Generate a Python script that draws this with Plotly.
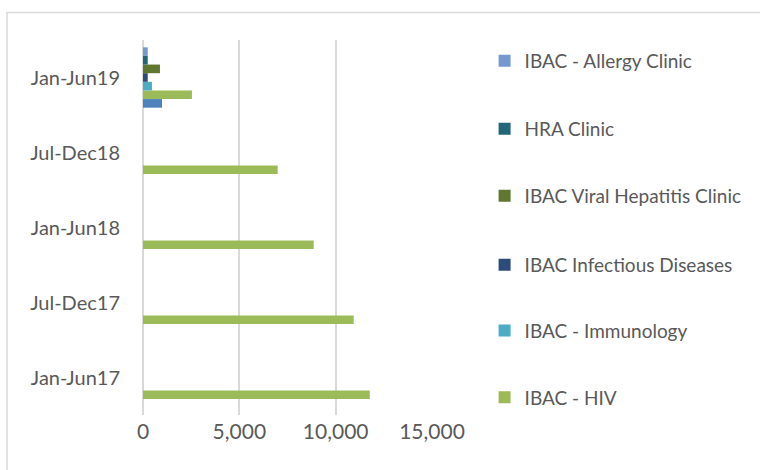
import plotly.graph_objects as go

# Reporting periods, bottom to top
periods = ["Jan-Jun17", "Jul-Dec17", "Jan-Jun18", "Jul-Dec18", "Jan-Jun19"]

# Attendances by clinic for each period
other_clinic = [0, 0, 0, 0, 985]
hiv = [11770, 10935, 8860, 6990, 2540]
immunology = [0, 0, 0, 0, 465]
infectious = [0, 0, 0, 0, 245]
viral_hep = [0, 0, 0, 0, 880]
hra = [0, 0, 0, 0, 245]
allergy = [0, 0, 0, 0, 245]

x_ticks = [0, 5000, 10000, 15000]
x_tick_text = ["0", "5,000", "10,000", "15,000"]

# (name, values, colour, legend id, legend y) — first series sits at the bottom of each group
series = [
    ("Other", other_clinic, "#4F81BD", None, None),
    ("IBAC - HIV", hiv, "#9BBB59", "legend6", 0.047),
    ("IBAC - Immunology", immunology, "#4BACC6", "legend5", 0.225),
    ("IBAC Infectious Diseases", infectious, "#2C4D7C", "legend4", 0.40),
    ("IBAC Viral Hepatitis Clinic", viral_hep, "#5F7730", "legend3", 0.584),
    ("HRA Clinic", hra, "#23667A", "legend2", 0.763),
    ("IBAC - Allergy Clinic", allergy, "#7399D0", "legend", 0.944),
]

font_family = "Lato, Open Sans, sans-serif"
text_color = "#595959"

fig = go.Figure()
legend_layouts = {}
for name, vals, color, leg, ly in series:
    fig.add_trace(go.Bar(
        y=periods, x=vals, name=name, orientation="h",
        marker=dict(color=color, line=dict(width=0)),
        showlegend=leg is not None,
        legend=leg if leg else "legend",
    ))
    if leg:
        legend_layouts[leg] = dict(
            x=1.182, y=ly, xanchor="left", yanchor="middle",
            bgcolor="rgba(0,0,0,0)",
            font=dict(family=font_family, size=19, color=text_color),
            itemclick=False, itemdoubleclick=False,
        )

fig.update_layout(
    width=760, height=470,
    margin=dict(l=143, r=328, t=40, b=55),
    paper_bgcolor="white", plot_bgcolor="white",
    barmode="group", bargap=0.195, bargroupgap=0,
    font=dict(family=font_family, size=19, color=text_color),
    xaxis=dict(
        range=[0, 15000], tickvals=x_ticks, ticktext=x_tick_text,
        tickfont=dict(size=21),
        showgrid=True, gridcolor="#D9D9D9", gridwidth=2,
        zeroline=True, zerolinecolor="#D9D9D9", zerolinewidth=2,
        showline=False, ticks="", ticklabelstandoff=2,
        fixedrange=True,
    ),
    yaxis=dict(
        categoryorder="array", categoryarray=periods,
        tickfont=dict(size=20),
        showgrid=False, showline=False, ticks="", ticklabelstandoff=22,
        fixedrange=True,
    ),
    shapes=[dict(
        type="rect", xref="paper", yref="paper",
        x0=(7 - 143) / 289, x1=3.0, y0=-0.5, y1=(415 - 12.5) / 375,
        line=dict(color="#D9D9D9", width=1.5), fillcolor="rgba(0,0,0,0)",
        layer="below",
    )],
    **legend_layouts,
)

fig.write_html("out.html")
